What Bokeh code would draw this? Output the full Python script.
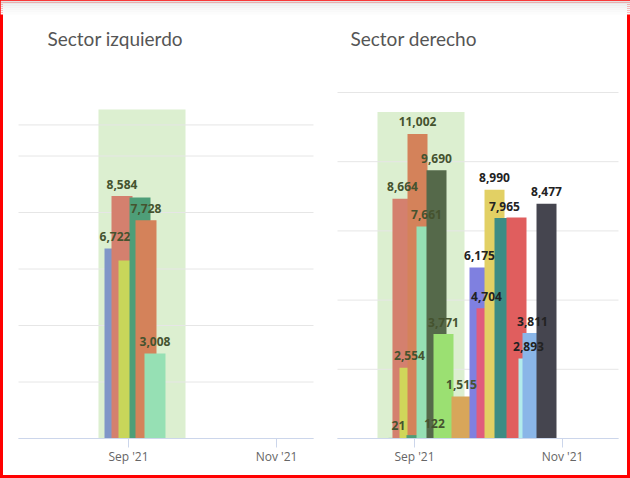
import pandas as pd
from bokeh.plotting import figure
from bokeh.models import (Range1d, DatetimeAxis, FixedTicker, DatetimeTickFormatter,
                          ColumnDataSource)
from bokeh.core.properties import value
from bokeh.embed import file_html
from bokeh.resources import INLINE

# ---------------- data ----------------
# Sector izquierdo
left_dates = ["2021-08-26 10:30", "2021-08-29 07:40", "2021-09-01 05:00",
              "2021-09-05 17:45", "2021-09-08 05:00", "2021-09-11 22:00"]
left_values = [6722, 8584, 6300, 8530, 7728, 3008]
left_labeled = [True, True, False, False, True, True]
left_colors = ["#8096c8", "#d4806e", "#c8d65a", "#4e9e78", "#d4825a", "#96e0b4"]
left_window = ("2021-08-19 15:00", "2021-09-24 12:00", 11650)
left_grid = [0, 2000, 4000, 6000, 8000, 10000, 11100]

# Sector derecho
right_dates = ["2021-08-25 09:30", "2021-08-27 01:00", "2021-08-29 22:30",
               "2021-09-02 05:45", "2021-09-01 19:40", "2021-09-05 22:50",
               "2021-09-10 01:40", "2021-09-12 22:50", "2021-09-20 08:50",
               "2021-09-27 19:00", "2021-09-30 16:20", "2021-10-03 23:30",
               "2021-10-08 02:25", "2021-10-13 01:00", "2021-10-17 23:45",
               "2021-10-19 15:20", "2021-10-25 09:50"]
right_values = [21, 8664, 2554, 11002, 122, 7661, 9690, 3771, 1515,
                6175, 4704, 8990, 7965, 7980, 2893, 3811, 8477]
right_labeled = [True] * 13 + [False] + [True] * 3
right_colors = ["#4e9e78", "#d4806e", "#d0d65a", "#d4825a", "#4e9e78", "#96e0b4",
                "#55694a", "#9be072", "#d8a65a", "#7f80e0", "#e05c7c", "#e2d064",
                "#3d8c84", "#e05e5e", "#b2ecec", "#8ab6e8", "#45454f"]
right_label_dx = [0, 0, 0, 0, 18, 0, 0, 0, 0, 0, 0, 0, 0, 0, 0, 0, 0]
right_window = ("2021-08-16 18:00", "2021-09-21 14:40", 11800)
right_grid = [0, 2500, 5000, 7500, 10000, 12500]

tick_dates = ["2021-09-01", "2021-11-01"]

# ---------------- layout ----------------
W, H = 630, 478
MS_DAY = 86400000.0
PX_PER_DAY = 148 / 61


def ms(d):
    return pd.Timestamp(d).value / 1e6


SEP1 = ms(tick_dates[0])

panels = {
    "L": dict(sep_px=128, base_py=438, px_per_k=28.25, gx=(18, 313), title_px=47),
    "R": dict(sep_px=414, base_py=438, px_per_k=27.68, gx=(337, 618), title_px=350),
}


def x_at(px, g):
    return SEP1 + (px - g["sep_px"]) / PX_PER_DAY * MS_DAY


def y_at(py, g):
    return (g["base_py"] - py) / g["px_per_k"] * 1000.0


gl, gr = panels["L"], panels["R"]

p = figure(width=W, height=H, output_backend="svg", toolbar_location=None,
           x_range=Range1d(x_at(0, gl), x_at(W, gl)),
           y_range=Range1d(y_at(H, gl), y_at(0, gl)),
           x_axis_type=None, y_axis_type=None, min_border=0)
p.extra_x_ranges = {"rx": Range1d(x_at(0, gr), x_at(W, gr))}
p.extra_y_ranges = {"ry": Range1d(y_at(H, gr), y_at(0, gr))}
p.xgrid.visible = False
p.ygrid.visible = False
p.background_fill_color = "white"
p.border_fill_color = "white"
p.outline_line_color = "#ff0000"
p.outline_line_width = 5

# soft shade along the top edge
shades = ["#e2e2e2", "#e8e8e8", "#eeeeee", "#f2f2f2", "#f6f6f6", "#f9f9f9", "#fcfcfc"]
p.quad(left=[x_at(0, gl)] * len(shades), right=[x_at(W, gl)] * len(shades),
       top=[y_at(2 * i, gl) for i in range(len(shades))],
       bottom=[y_at(2 * i + 2, gl) for i in range(len(shades))],
       fill_color=shades, line_color=None)

LABEL_IN = "#45532f"
LABEL_OUT = "#222222"


def draw_panel(key, dates, values, labeled, colors, window, grid, title, bar_px,
               label_dx=None, rx="default", ry="default"):
    g = panels[key]
    kw = dict(x_range_name=rx, y_range_name=ry)
    # highlighted window
    p.quad(left=[ms(window[0])], right=[ms(window[1])], bottom=[0], top=[window[2]],
           fill_color="#dcefd0", line_color=None, **kw)
    # horizontal grid
    p.segment(x0=[x_at(g["gx"][0], g)] * len(grid), x1=[x_at(g["gx"][1], g)] * len(grid),
              y0=grid, y1=grid, line_color="#e6e6e6", line_width=1, **kw)
    xs = [ms(d) for d in dates]
    src = ColumnDataSource(dict(x=xs, top=values, color=colors))
    p.vbar(x="x", top="top", bottom=0, width=bar_px / PX_PER_DAY * MS_DAY,
           fill_color="color", line_color=None, source=src, **kw)
    # data labels
    w0, w1 = ms(window[0]), ms(window[1])
    idx = [i for i, f in enumerate(labeled) if f]
    dx = label_dx if label_dx is not None else [0] * len(values)
    lsrc = ColumnDataSource(dict(
        x=[xs[i] for i in idx], y=[values[i] for i in idx],
        text=[f"{values[i]:,}" for i in idx],
        dx=[dx[i] for i in idx],
        color=[LABEL_IN if w0 <= xs[i] + dx[i] / PX_PER_DAY * MS_DAY <= w1 else LABEL_OUT
               for i in idx]))
    p.text(x="x", y="y", text="text", x_offset="dx", y_offset=-12, source=lsrc,
           text_align="center", text_baseline="middle", text_color="color",
           text_font=value("Open Sans"), text_font_style="bold", text_font_size="12px",
           **kw)
    # title
    p.text(x=[x_at(g["title_px"], g)], y=[y_at(38, g)], text=[title],
           text_align="left", text_baseline="middle", text_color="#555555",
           text_font=value("Lato"), text_font_size="19px", **kw)
    # date axis
    ax = DatetimeAxis(
        ticker=FixedTicker(ticks=[ms(d) for d in tick_dates]),
        formatter=DatetimeTickFormatter(years="%b '%y", months="%b '%y", days="%b '%y",
                                        hours="%b '%y"),
        fixed_location=0, bounds=(x_at(g["gx"][0], g), x_at(g["gx"][1], g)),
        axis_line_color="#ccd6eb", major_tick_line_color="#ccd6eb",
        major_tick_out=9, major_tick_in=0, minor_tick_out=0, minor_tick_in=0,
        major_label_standoff=0, major_label_text_color="#666666",
        major_label_text_font="Open Sans", major_label_text_font_size="12px",
        x_range_name=rx, y_range_name=ry)
    p.add_layout(ax, "below")


draw_panel("L", left_dates, left_values, left_labeled, left_colors, left_window,
           left_grid, "Sector izquierdo", 21)
draw_panel("R", right_dates, right_values, right_labeled, right_colors, right_window,
           right_grid, "Sector derecho", 20, label_dx=right_label_dx, rx="rx", ry="ry")

open("out.html", "w").write(file_html(p, INLINE))
